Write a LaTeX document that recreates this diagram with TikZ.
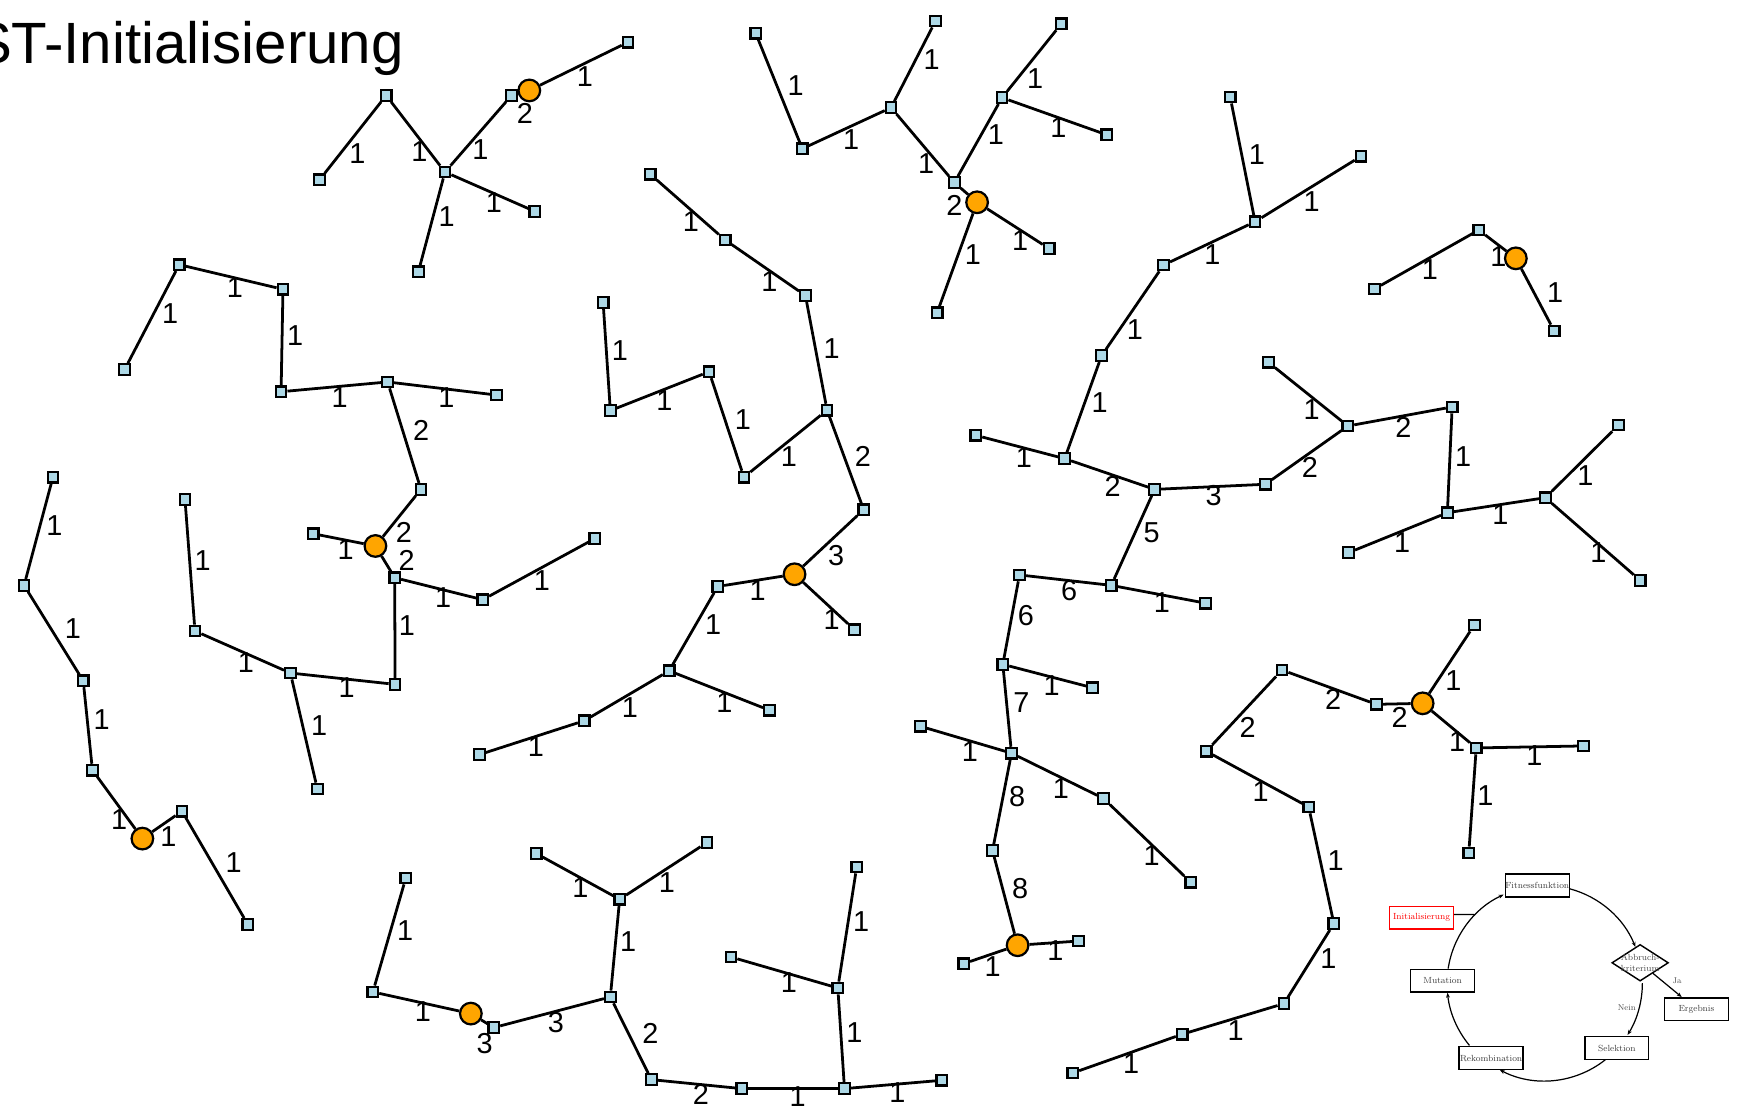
\documentclass[tikz,border=0pt]{standalone}
\usepackage{fontspec}
\newfontfamily\sansf{Liberation Sans}
\usetikzlibrary{shapes.geometric,arrows.meta}
\definecolor{lblue}{HTML}{ADD8E6}
\definecolor{orng}{HTML}{FFA500}
\tikzset{
  sq/.style={draw=black, line width=2pt, fill=lblue, rectangle, minimum size=9.5pt, inner sep=0pt},
  hub/.style={draw=black, line width=2pt, fill=orng, circle, minimum size=19.5pt, inner sep=0pt},
  edg/.style={line width=2.5pt, black},
  wt/.style={font=\sansf\fontsize{26}{26}\selectfont, inner sep=0pt, text=black},
  fcbox/.style={draw=black, line width=1.3pt, fill=white, minimum width=57.5pt, minimum height=20.5pt, inner sep=0pt, font=\fontsize{8}{9}\selectfont, text=black!75},
  fcarr/.style={line width=1.1pt, -{Stealth[length=4.5pt,width=3.5pt]}},
  fcsmall/.style={font=\fontsize{7.5}{8}\selectfont, text=black!70, inner sep=0pt},
}
\begin{document}
\begin{tikzpicture}[x=1pt,y=-1pt]
\fill[white] (0,0) rectangle (1568,1003);
\useasboundingbox (0,0) rectangle (1568,1003);

\node[anchor=base east, font=\sansf\fontsize{52.5}{52.5}\selectfont, inner sep=0pt] (title) at (364,57) {ST-Initialisierung};

% square vertices
\foreach \n/\x/\y in {
a1/348/86, a2/288/162, a3/401/155, a4/461/86, a5/482/190.5, a6/377/245, a7/566/38,
b1/681/30, b2/723/134, b3/803/97, b4/843/19, b5/860/164.5, b6/903/88, b7/956.4/21.5, b8/997.4/121.5, b9/945.4/224, b10/844.5/281.8,
c1/586/157, c2/653.5/216.3, c3/725.8/266.3, c4/745.3/369.6, c5/670.4/430, c6/639/335, c7/550/370, c8/543.5/272.5, c9/778.3/459.3, c10/770/567.5, c11/646.8/528.5, c12/603/604.5, c13/693.4/640, c14/526.5/649.5, c15/432/680,
d1/161.5/238.5, d2/112.3/333, d3/255/260.7, d4/253.3/353, d5/349.3/344.2, d6/447.5/356, d7/379.3/441, d8/282.3/481, d9/355.7/520.6, d10/435/540.4, d11/536/485.4, d12/356/616.7, d13/261.7/606.5, d14/175.7/568.6, d15/166.7/450, d16/286/711,
e1/47.7/430, e2/21.7/527.5, e3/75/613.5, e4/83.3/694, e5/164/731, e6/223.3/833,
f1/365.7/791.2, f2/336/893.9, f3/445/926, f4/550/898.4, f5/558.4/810.4, f6/483.3/769.2, f7/637/759.3, f8/587/972.9, f9/668.4/981, f10/761/981, f11/848.7/973.5, f12/755/890.3, f13/658.7/862.4, f14/772/781.3,
g1/1108.6/87.5, g2/1131/199.8, g3/1226.5/140.8, g4/1048.6/238.8, g5/992.7/320.5, g6/959.4/413.3, g7/879.4/392.3, g8/1040.5/441, g9/1001.4/527.5, g10/918.7/518.1, g11/1086.3/543.5, g12/903.7/598.7, g13/984.4/619.7, g14/911.5/678.7, g15/829.4/654.5, g16/994.4/719.5, g17/1073/795, g18/894.4/766.5, g19/868.4/868.4, g20/972/848, g21/1140.3/436.4, g22/1214.6/383.9, g23/1143/326.5, g24/1308.6/366.7, g25/1304.3/462, g26/1215.3/498, g27/1392.6/448.5, g28/1458.6/383, g29/1478/523,
h1/1238.6/260.4, h2/1332.6/207.3, h3/1400.6/298.3,
i1/1155.3/603.8, i2/1087/677, i3/1240.3/634.7, i4/1328.6/563.2, i5/1330.3/674, i6/1427/672.2, i7/1323.6/768.6, i8/1179.3/727.2, i9/1202/832.3, i10/1157/904.4, i11/1065.3/932, i12/966.7/966.9}
  \node[sq] (\n) at (\x,\y) {};

% orange hubs
\foreach \n/\x/\y in {o1/477/81.5, o2/880.5/182.3, o3/716/517.5, o4/338.3/492, o5/128.3/755.7, o6/424.3/913.4, o7/917/851.8, o8/1366/232.8, o9/1282/633.8}
  \node[hub] (\n) at (\x,\y) {};

% edges
\foreach \p/\q in {
a2/a1, a1/a3, a3/a4, a4/o1, o1/a7, a3/a5, a3/a6,
b1/b2, b2/b3, b3/b4, b3/b5, b5/b6, b6/b7, b6/b8, b5/o2, o2/b9, o2/b10,
c1/c2, c2/c3, c3/c4, c4/c5, c5/c6, c6/c7, c7/c8, c4/c9, c9/o3, o3/c10, o3/c11, c11/c12, c12/c13, c12/c14, c14/c15,
d2/d1, d1/d3, d3/d4, d4/d5, d5/d6, d5/d7, d7/o4, o4/d9, d8/o4, d9/d10, d10/d11, d9/d12, d12/d13, d13/d14, d14/d15, d13/d16,
e1/e2, e2/e3, e3/e4, e4/o5, o5/e5, e5/e6,
f1/f2, f2/o6, o6/f3, f3/f4, f4/f5, f5/f6, f5/f7, f4/f8, f8/f9, f9/f10, f10/f11, f10/f12, f13/f12, f12/f14,
g1/g2, g2/g3, g4/g2, g5/g4, g6/g5, g7/g6, g6/g8, g8/g21, g8/g9, g9/g10, g9/g11, g10/g12, g12/g13, g12/g14, g15/g14, g14/g16, g16/g17, g14/g18, g18/o7, g19/o7, o7/g20, g21/g22, g23/g22, g22/g24, g24/g25, g26/g25, g25/g27, g27/g28, g27/g29,
h1/h2, h2/o8, o8/h3,
i1/i2, i1/i3, i3/o9, o9/i4, o9/i5, i5/i6, i5/i7, i2/i8, i8/i9, i9/i10, i10/i11, i11/i12}
  \draw[edg] (\p) -- (\q);

% edge weights
\foreach \x/\y/\t [count=\i] in {
322/138/1, 378/137/1, 433/135/1, 473/102/2, 527/69/1, 445/183/1, 402.5/195.5/1,
717/77.5/1, 767/126/1, 839.5/53.5/1, 834.5/147/1, 897.5/121.7/1, 932.7/70.6/1, 953.7/115/1, 860/184.7/2, 919.4/217/1, 876.7/229.8/1,
622.7/199.8/1, 693.4/253.8/1, 749.4/314/1, 711/411.8/1, 669.4/378/1, 598.7/361.3/1, 558.5/316/1, 777.7/411/2, 753.4/501/3, 749.4/558/1, 682.7/532.6/1, 642.7/562.6/1, 652.7/633.2/1, 567.7/637.7/1, 483/673/1,
153.3/282.4/1, 211.7/259/1, 266/302.5/1, 306/358/1, 402.3/358/1, 379.5/387.8/2, 364/480/2, 366.5/505/2, 311.5/495/1, 399.3/538.6/1, 488.3/523.6/1, 366.7/564/1, 312.3/619.7/1, 221.7/597.5/1, 182.7/505/1, 287.5/654.2/1,
49/474/1, 65.7/566/1, 91.5/648.5/1, 107.3/738.3/1, 151.7/753.5/1, 210.5/777/1,
365/838.3/1, 381/912/1, 436.7/940.5/3, 501/921.8/3, 566/848.8/1, 523/800/1, 601/795/1, 586/931.5/2, 631.7/986.4/2, 718.7/988.5/1, 808.7/985/1, 770/930.5/1, 711/885/1, 776/830.8/1,
1132.6/139/1, 1182/181.7/1, 1092.6/229/1, 1022.7/297/1, 991/362.8/1, 922.7/412.4/1, 1002.7/438/2, 1093.6/447/3, 1037.7/480/5, 963.4/532.6/6, 1047/543/1, 924.4/555/6, 947.7/618.2/1, 920.4/633.2/7, 874/677/1, 956/710.6/1, 1037.7/770.7/1, 916.7/718.2/8, 919.4/801/8, 894.4/871.4/1, 951/856.4/1, 1180.3/421.4/2, 1182/368.8/1, 1264.6/385.4/2, 1318.6/411/1, 1263.6/489/1, 1352/463.5/1, 1428.6/429/1, 1440.3/498/1,
1288.6/243.3/1, 1350.3/231.3/1, 1401.3/263.7/1,
1124.3/655.1/2, 1201.3/630.2/2, 1261.3/646.7/2, 1309.6/613.1/1, 1313/668/1, 1382.6/680.6/1, 1338.6/716.7/1, 1136/713/1, 1203.6/775.2/1, 1197/863.9/1, 1113.6/928.4/1, 1019.4/958.5/1}
  \node[wt] (wt\i) at (\x,\y) {\t};

% small flowchart
\node[fcbox] (fit) at (1385.3,798) {Fitnessfunktion};
\node[fcbox, draw=red, text=red] (init) at (1281,827) {Initialisierung};
\node[fcbox] (mut) at (1300,883.7) {Mutation};
\node[fcbox] (rek) at (1343.7,953.5) {Rekombination};
\node[fcbox] (sel) at (1457,944.5) {Selektion};
\node[fcbox] (erg) at (1528.7,909.4) {Ergebnis};
\node[diamond, draw=black, line width=1.3pt, fill=white, minimum width=51pt, minimum height=33pt, inner sep=0pt,
  label={[font=\fontsize{8}{10.5}\selectfont, text=black!70, align=center]center:Abbruch-\\kriterium}] (abb) at (1478,867.6) {};
\coordinate (cc) at (1392,886);
\coordinate (junc) at (1329.2,824.2);
\draw[line width=1.1pt] ([yshift=3pt]init.east) -- (junc);
\draw[fcarr] ([shift={(284.9:88)}]cc) arc[start angle=284.9, end angle=338.2, radius=88];
\draw[fcarr] ([shift={(0:88)}]cc) arc[start angle=0, end angle=32, radius=88];
\draw[fcarr] ([shift={(51.6:88)}]cc) arc[start angle=51.6, end angle=117.4, radius=88];
\draw[fcarr] ([shift={(140.4:88)}]cc) arc[start angle=140.4, end angle=174.4, radius=88];
\draw[fcarr] ([shift={(188.6:88)}]cc) arc[start angle=188.6, end angle=245.1, radius=88];
\draw[fcarr] (abb) -- (erg);
\node[fcsmall] (ja) at (1511.3,883.4) {Ja};
\node[fcsmall] (nein) at (1466,908) {Nein};
\end{tikzpicture}
\end{document}
